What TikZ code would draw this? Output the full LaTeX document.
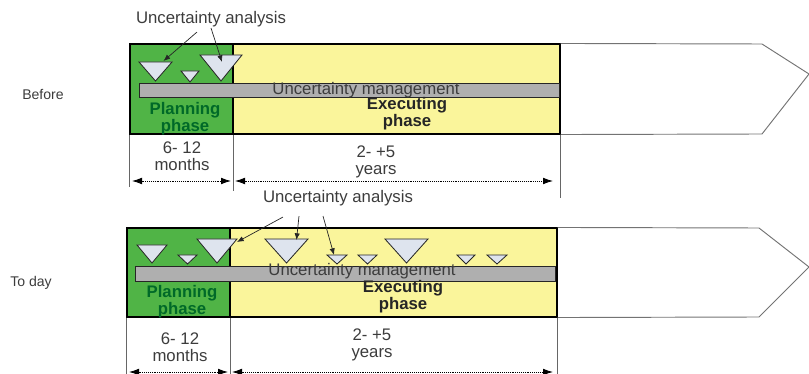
\documentclass[tikz,border=0pt]{standalone}
\usepackage{fontspec}
\setmainfont{Liberation Sans}
\usetikzlibrary{positioning,arrows.meta,fit,calc}
\definecolor{planfill}{RGB}{80,180,70}
\definecolor{execfill}{RGB}{250,245,155}
\definecolor{barfill}{RGB}{175,175,175}
\definecolor{trifill}{RGB}{222,228,238}
\definecolor{plantext}{RGB}{0,105,40}
\definecolor{txtgray}{RGB}{60,60,60}
\newcommand{\lblfont}{\fontsize{14.3}{14.6}\selectfont}

\begin{document}
\begin{tikzpicture}[
  x=0.03cm,y=-0.03cm,
  phase/.style={draw=black,line width=0.9pt,inner sep=0pt},
  planbox/.style={phase,fill=planfill},
  execbox/.style={phase,fill=execfill},
  umbar/.style={draw=black!85,line width=0.8pt,fill=barfill,inner sep=0pt},
  tri/.style={draw=black!85,line width=0.7pt,fill=trifill},
  txt/.style={font=\lblfont,text=txtgray,align=center,inner sep=0pt},
  boldtxt/.style={txt,font=\lblfont\bfseries},
  side/.style={font=\fontsize{12}{14}\selectfont,text=txtgray,inner sep=0pt},
  ar/.style={-{Latex[length=2mm,width=1.6mm]},line width=0.6pt,black!85},
  dim/.style={{Latex[length=3mm,width=2mm]}-{Latex[length=3mm,width=2mm]},
              dash pattern=on 0.8pt off 0.8pt,line width=0.7pt},
  tick/.style={draw=black!60,line width=0.7pt},
  tipline/.style={draw=black!55,line width=0.8pt}
]
\useasboundingbox (0,0) rectangle (809,374);

% ---- before ----
\node[planbox,fit={(130,44) (233,134)}] (plan1) {};
\node[execbox,fit={(233,44) (560,134)}] (exec1) {};
\draw[tipline] (exec1.north east) -- (762,44) -- (809,74) -- (762,134) -- (exec1.south east);
\node[umbar,fit={(139,83) (559,97)}] (bar1) {};
\foreach \n/\cx/\ty/\w/\h in {a1/155.5/62/16.5/19, a2/190/71/9/11, a3/221/55/21/26}{
  \draw[tri] (\cx-\w,\ty) -- (\cx+\w,\ty) -- (\cx,\ty+\h) -- cycle;
  \coordinate (\n) at (\cx,\ty);
}
\node[txt] (ua1) at (211,19) {Uncertainty analysis};
\node[side] (before) at (43,94) {Before};
\node[txt] (um1) at (366,90) {Uncertainty management};
\node[boldtxt,text=plantext] (pl1) at (185,118.5) {Planning\\phase};
\node[boldtxt,text=black!85] (ex1) at (407,113.5) {Executing\\phase};
\node[txt] (mo1) at (182,156.5) {6- 12\\months};
\node[txt] (yr1) at (376,161.5) {2- +5\\years};

\draw[ar] ($(ua1.south)+(-14,5)$) -- ($(a1)+(8,-1)$);
\draw[ar] ($(ua1.south)+(0,1)$) -- ($(a3)+(1,7)$);

\draw[tick] (plan1.south west) -- ++(0,52);
\draw[tick] (plan1.south east) -- ++(0,56);
\draw[tick] (exec1.south east) -- ++(0,63);
\coordinate (d1a) at (132,181);
\coordinate (d1b) at (231,181);
\coordinate (d1c) at (235,181);
\coordinate (d1d) at (553,181);
\draw[dim] (d1a) -- (d1b);
\draw[dim] (d1c) -- (d1d);

% ---- to day ----
\node[planbox,fit={(127,228) (230,317)}] (plan2) {};
\node[execbox,fit={(230,228) (557,317)}] (exec2) {};
\draw[tipline] (exec2.north east) -- (759,228) -- (809,267) -- (759,317) -- (exec2.south east);
\node[umbar,fit={(135,266) (555,281)}] (bar2) {};
\foreach \n/\cx/\ty/\w/\h in {b1/152/245/15/18, b2/187.5/255/9.5/9, b3/217/239/20/24,
    b4/286.5/239/21.5/24, b5/337/255/10/9, b6/367.5/255/9.5/9, b7/406.5/239/21.5/24,
    b8/466/255/9/9, b9/497/255/10/9}{
  \draw[tri] (\cx-\w,\ty) -- (\cx+\w,\ty) -- (\cx,\ty+\h) -- cycle;
  \coordinate (\n) at (\cx,\ty);
}
\node[txt] (ua2) at (338,198) {Uncertainty analysis};
\node[side] (today) at (31,283) {To day};
\node[txt] (um2) at (362,271) {Uncertainty management};
\node[boldtxt,text=plantext] (pl2) at (182,301.5) {Planning\\phase};
\node[boldtxt,text=black!85] (ex2) at (403,296.5) {Executing\\phase};
\node[txt] (mo2) at (180,347) {6- 12\\months};
\node[txt] (yr2) at (372,345) {2- +5\\years};

\draw[ar] ($(ua2.south)+(-55,11)$) -- ($(b3)+(20,3)$);
\draw[ar] ($(ua2.south)+(-39,10)$) -- ($(b4)+(10,1)$);
\draw[ar] ($(ua2.south)+(-15,10)$) -- ($(b5)+(-3,0)$);

\draw[tick] (plan2.south west) -- ++(0,57);
\draw[tick] (plan2.south east) -- ++(0,57);
\draw[tick] (exec2.south east) -- ++(0,57);
\coordinate (d2a) at (129,372);
\coordinate (d2b) at (228,372);
\coordinate (d2c) at (232,372);
\coordinate (d2d) at (553,372);
\draw[dim] (d2a) -- (d2b);
\draw[dim] (d2c) -- (d2d);
\end{tikzpicture}
\end{document}
